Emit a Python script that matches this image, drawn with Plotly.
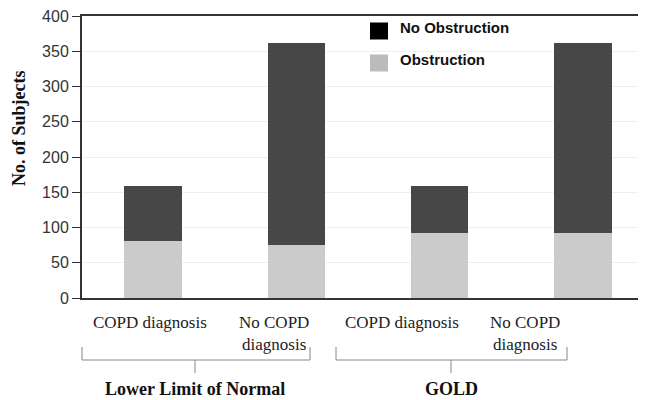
import plotly.graph_objects as go

categories = ["LLN COPD", "LLN No COPD", "GOLD COPD", "GOLD No COPD"]
obstruction = [81, 75, 92, 92]
no_obstruction = [78, 287, 67, 270]
tick_labels = ["COPD diagnosis", "No COPD<br>diagnosis", "COPD diagnosis", "No COPD<br>diagnosis"]
group_labels = ["Lower Limit of Normal", "GOLD"]
series_names = ["No Obstruction", "Obstruction"]
y_title = "No. of Subjects"

# page body has an 8px margin, so the figure is drawn 8px smaller/offset
OFF = 8
W, H = 646 - OFF, 400 - OFF
L, R, T, B = 82 - OFF, 0, 16 - OFF, 102
pw, ph = W - L - R, H - T - B
X0, Y0 = 82, 298  # reference-pixel position of plot-area left/bottom

def px(x):
    return (x - X0) / pw

def py(y):
    return (Y0 - y) / ph

xpos = list(range(len(categories)))

fig = go.Figure()
fig.add_trace(go.Bar(x=xpos, y=obstruction, name=series_names[1], marker_color="#cbcbcb",
                     width=0.4, showlegend=False, marker_line_width=0))
fig.add_trace(go.Bar(x=xpos, y=no_obstruction, name=series_names[0], marker_color="#474747",
                     width=0.4, showlegend=False, marker_line_width=0))

serif = "Liberation Serif"
sans = "Liberation Sans"

ann = []
shapes = []
label_pos = [(150, "center"), (311, "right"), (402, "center"), (562, "right")]
for (xp, anc), lab in zip(label_pos, tick_labels):
    ann.append(dict(x=px(xp), y=py(311), xref="paper", yref="paper", text=lab, showarrow=False,
                    xanchor=anc, yanchor="top", align="center",
                    font=dict(family=serif, size=17, color="#222")))
brackets = [(82, 310, 195), (336, 567, 451)]
for (x0, x1, xm), g in zip(brackets, group_labels):
    line = dict(color="#888", width=1)
    shapes.append(dict(type="line", xref="paper", yref="paper", x0=px(x0), x1=px(x1), y0=py(360), y1=py(360), line=line))
    shapes.append(dict(type="line", xref="paper", yref="paper", x0=px(x0), x1=px(x0), y0=py(347), y1=py(360), line=line))
    shapes.append(dict(type="line", xref="paper", yref="paper", x0=px(x1), x1=px(x1), y0=py(347), y1=py(360), line=line))
    shapes.append(dict(type="line", xref="paper", yref="paper", x0=px(xm), x1=px(xm), y0=py(360), y1=py(373), line=line))
    ann.append(dict(x=px(xm), y=py(389), xref="paper", yref="paper", text="<b>" + g + "</b>", showarrow=False,
                    xanchor="center", yanchor="middle", font=dict(family=serif, size=18, color="#111")))
legend_items = [(series_names[0], "#000000", 31), (series_names[1], "#bbbbbb", 63)]
for name, col, yc in legend_items:
    shapes.append(dict(type="rect", xref="paper", yref="paper", x0=px(370), x1=px(388), y0=py(yc - 8.5), y1=py(yc + 8.5),
                       fillcolor=col, line=dict(width=0)))
    ann.append(dict(x=px(398), y=py(yc - 4), xref="paper", yref="paper", text="<b>" + name + "</b>", showarrow=False,
                    xanchor="left", yanchor="middle", font=dict(family=sans, size=15, color="#111")))
# y-axis title
ann.append(dict(x=px(19), y=py(128), xref="paper", yref="paper", text="<b>" + y_title + "</b>", showarrow=False,
                textangle=-90, xanchor="center", yanchor="middle", font=dict(family=serif, size=18, color="#111")))

fig.update_layout(
    width=W, height=H, margin=dict(l=L, r=R, t=T, b=B),
    barmode="stack",
    plot_bgcolor="white", paper_bgcolor="white",
    annotations=ann, shapes=shapes,
    xaxis=dict(range=[-0.495, 3.44], showticklabels=False, showgrid=False, zeroline=False,
               showline=True, linecolor="#333", linewidth=2, mirror=True, ticks=""),
    yaxis=dict(range=[0, 400], dtick=50, showgrid=True, gridcolor="#efefef", gridwidth=1, zeroline=False,
               showline=True, linecolor="#333", linewidth=2, ticks="outside", ticklen=8, tickcolor="#333",
               ticklabeloverflow="allow",
               tickfont=dict(family=sans, size=16, color="#333")),
)

fig.write_html("out.html")
